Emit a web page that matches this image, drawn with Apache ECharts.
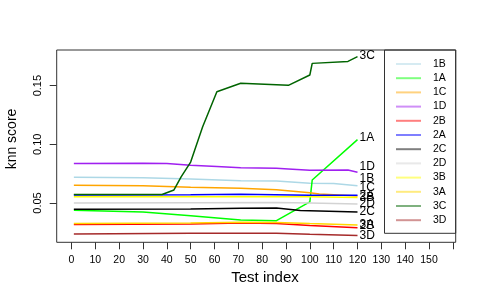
<!DOCTYPE html>
<html><head><meta charset="utf-8">
<script src="https://cdn.jsdelivr.net/npm/echarts@6/dist/echarts.min.js"></script>
<style>html,body{margin:0;padding:0;background:#fff}#c{width:485px;height:305px}</style>
</head><body><div id="c"></div>
<script>
// ---- data ----
const seriesNames = ['1B','1A','1C','1D','2B','2A','2C','2D','3B','3A','3C','3D'];
const xTickValues = [0,10,20,30,40,50,60,70,80,90,100,110,120,130,140,150,160];
const xTickLabels = [0,10,20,30,40,50,60,70,80,90,100,110,120,130,140,150];
const yTickValues = [0.05,0.10,0.15];

const s1B = [[1,0.0719],[30,0.0716],[50,0.0704],[71,0.0690],[86,0.0687],[100,0.0668],[110,0.0666],[120,0.0647]];
const s1A = [[1,0.0438],[30,0.0423],[50,0.0392],[71,0.0355],[86,0.0349],[100,0.0509],[101,0.0696],[120,0.1040]];
const s1C = [[1,0.0651],[30,0.0648],[50,0.0634],[71,0.0625],[86,0.0613],[100,0.0588],[104,0.0577],[120,0.0560]];
const s1D = [[1,0.0837],[30,0.0838],[40,0.0836],[50,0.0821],[61,0.0811],[71,0.0801],[86,0.0796],[91,0.0790],[100,0.0779],[116,0.0781],[120,0.0762]];
const s2B = [[1,0.0317],[50,0.0322],[71,0.0330],[86,0.0325],[100,0.0308],[120,0.0290]];
const s2A = [[1,0.0569],[50,0.0571],[71,0.0574],[100,0.0567],[120,0.0566]];
const s2C = [[1,0.0446],[50,0.0448],[71,0.0455],[86,0.0457],[96,0.0436],[120,0.0423]];
const s2D = [[1,0.0500],[50,0.0503],[86,0.0505],[100,0.0500],[120,0.0492]];
const s3B = [[1,0.0554],[50,0.0554],[100,0.0554],[120,0.0546]];
const s3A = [[1,0.0325],[50,0.0329],[71,0.0336],[86,0.0334],[100,0.0325],[120,0.0313]];
const s3C = [[1,0.0572],[30,0.0573],[38,0.0573],[43,0.0611],[46,0.0722],[50,0.0849],[55,0.1148],[61,0.1448],[71,0.1520],[91,0.1503],[100,0.1591],[101,0.1690],[116,0.1707],[120,0.1747]];
const s3D = [[1,0.0236],[50,0.0242],[86,0.0243],[100,0.0234],[120,0.0223]];

const seriesData = [s1B,s1A,s1C,s1D,s2B,s2A,s2C,s2D,s3B,s3A,s3C,s3D];

// ---- styles ----
const colors = ['#ADD8E6','#00FF00','#FFA500','#A020F0','#FF0000','#0000FF','#000000','#D3D3D3','#FFFF00','#FFD700','#006400','#A52A2A'];
const labelShift = {'1D':-5.6,'1B':-6.7,'1C':-8.7,'1A':-2,'3C':-1.5,'2B':-1.5};
const FONT = '"Liberation Sans", Arial, Helvetica, sans-serif';

function fade(hex, a){
  const r=parseInt(hex.slice(1,3),16), g=parseInt(hex.slice(3,5),16), b=parseInt(hex.slice(5,7),16);
  return `rgba(${r},${g},${b},${a})`;
}

const chart = echarts.init(document.getElementById('c'), null, {renderer:'canvas'});
const option = {
  animation:false,
  backgroundColor:'#fff',
  textStyle:{fontFamily:FONT},
  grid:{left:56.7,right:29.3,top:50,bottom:62.7,show:true,borderColor:'#333',borderWidth:1,backgroundColor:'transparent',containLabel:false},
  xAxis:{
    type:'value',min:-6.2,max:161.2,
    axisLine:{show:false,onZero:false},
    splitLine:{show:false},
    axisTick:{show:true,length:7,lineStyle:{color:'#333'},customValues:xTickValues},
    axisLabel:{show:true,customValues:xTickLabels,fontSize:10.5,color:'#000',margin:12,fontFamily:FONT}
  },
  yAxis:{
    type:'value',min:0.0165,max:0.1804,
    axisLine:{show:false,onZero:false},
    splitLine:{show:false},
    axisTick:{show:true,length:7,lineStyle:{color:'#333'},customValues:yTickValues},
    axisLabel:{show:true,customValues:yTickValues,rotate:90,fontSize:11,color:'#000',margin:13,fontFamily:FONT,
      formatter:v=>v.toFixed(2)}
  },
  legend:{
    orient:'vertical',left:396,top:56.9,padding:0,itemGap:0,
    icon:'rect',itemWidth:25,itemHeight:2,
    textStyle:{fontSize:10.5,color:'#000',lineHeight:14.2,padding:[0,0,0,7],fontFamily:FONT},
    selectedMode:false,
    data:seriesNames.map((n,i)=>({name:n,itemStyle:{color:fade(colors[i],0.5)}}))
  },
  graphic:[
    {type:'rect',shape:{x:384.5,y:50,width:71.2,height:183.3},style:{fill:'rgba(255,255,255,0)',stroke:'#333',lineWidth:1},z:-1},
    {type:'text',x:265,y:278.3,style:{text:'Test index',font:'15px '+FONT,fill:'#000',textAlign:'center',textVerticalAlign:'middle'}},
    {type:'text',x:11.7,y:139,rotation:Math.PI/2,style:{text:'knn score',font:'14px '+FONT,fill:'#000',textAlign:'center',textVerticalAlign:'middle'}}
  ],
  series:seriesNames.map((n,i)=>({
    name:n,type:'line',data:seriesData[i],symbol:'none',showSymbol:false,smooth:false,
    lineStyle:{color:colors[i],width:1.5},itemStyle:{color:colors[i]},
    emphasis:{disabled:true},
    endLabel:{show:true,formatter:'{a}',fontSize:12,color:'#000',distance:2,offset:[0,labelShift[n]||0],fontFamily:FONT}
  }))
};
chart.setOption(option);
</script>
</body></html>
